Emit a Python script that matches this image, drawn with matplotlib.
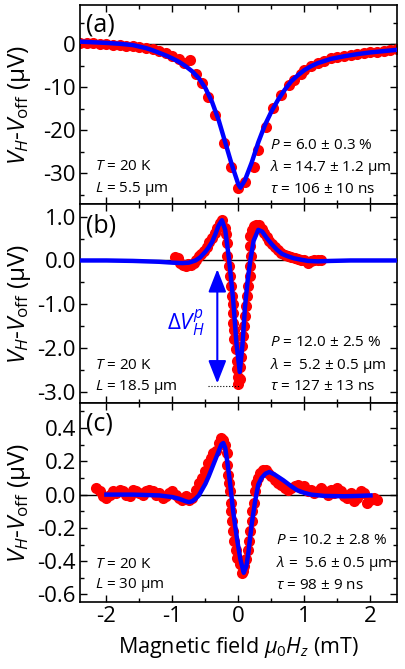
import numpy as np
import matplotlib
matplotlib.use('Agg')
import matplotlib.pyplot as plt
from matplotlib.ticker import MultipleLocator, FormatStrFormatter

plt.rcParams['font.family'] = 'Open Sans'
plt.rcParams['mathtext.fontset'] = 'custom'
plt.rcParams['mathtext.rm'] = 'Open Sans'
plt.rcParams['mathtext.it'] = 'Open Sans:italic'
plt.rcParams['mathtext.bf'] = 'Open Sans:bold'
plt.rcParams['axes.unicode_minus'] = False

# ---- panel (a): L = 5.5 um ----
xa_dots = [-2.4, -2.3, -2.2, -2.1, -2.0, -1.9, -1.8, -1.7, -1.6, -1.5, -1.4, -1.3,
           -1.2, -1.1, -1.0, -0.9, -0.82, -0.73, -0.65, -0.55, -0.46, -0.36, -0.22,
           -0.12, 0.0, 0.1, 0.23, 0.3, 0.42, 0.53, 0.65, 0.76, 0.84, 0.94, 1.0, 1.1,
           1.2, 1.3, 1.4, 1.5, 1.6, 1.7, 1.8, 1.9, 2.0, 2.1, 2.2, 2.3, 2.4]
ya_dots = [0.3, 0.25, 0.2, 0.1, 0.0, -0.1, -0.2, -0.3, -0.5, -0.7, -0.9, -1.2,
           -1.6, -2.1, -2.7, -3.4, -4.3, -3.7, -6.8, -9.1, -12.3, -16.5, -22.9,
           -28.5, -33.3, -32.0, -28.5, -24.5, -19.3, -14.9, -11.9, -9.5, -8.2, -6.8,
           -6.0, -5.0, -4.3, -3.8, -3.3, -3.0, -2.7, -2.5, -2.2, -2.0, -1.8, -1.7,
           -1.5, -1.4, -1.2]
xa_fit = [-2.4, -2.2, -2.0, -1.8, -1.6, -1.4, -1.3, -1.2, -1.1, -1.0, -0.9, -0.8,
          -0.7, -0.6, -0.5, -0.4, -0.3, -0.2, -0.1, 0.0, 0.03, 0.1, 0.2, 0.3, 0.4,
          0.5, 0.6, 0.7, 0.8, 0.9, 1.0, 1.1, 1.2, 1.4, 1.6, 1.8, 2.0, 2.2, 2.4]
ya_fit = [0.6, 0.45, 0.3, 0.1, -0.2, -0.9, -1.4, -2.0, -2.6, -3.3, -4.1, -5.1,
          -6.3, -7.9, -10.2, -13.4, -17.6, -22.8, -28.0, -32.6, -33.3, -31.5, -27.5,
          -22.8, -18.8, -15.6, -12.9, -10.6, -8.6, -7.2, -6.0, -5.1, -4.4, -3.4,
          -2.8, -2.3, -1.9, -1.6, -1.3]

# ---- panel (b): L = 18.5 um ----
xb_dots = [-0.96, -0.92, -0.88, -0.84, -0.80, -0.76, -0.72, -0.68, -0.64, -0.60,
           -0.56, -0.52, -0.48, -0.44, -0.40, -0.36, -0.32, -0.28, -0.25, -0.21,
           -0.19, -0.18, -0.18, -0.15, -0.13, -0.12, -0.10, -0.09, -0.09, -0.08,
           -0.07, -0.06, -0.03, -0.02, -0.02, 0.0, 0.0,
           0.02, 0.03, 0.04, 0.05, 0.07, 0.08, 0.10, 0.12, 0.13, 0.15, 0.17, 0.18,
           0.19, 0.18, 0.18, 0.20, 0.23, 0.27, 0.31, 0.35, 0.39, 0.43, 0.47, 0.51,
           0.55, 0.60, 0.65, 0.70, 0.75, 0.80, 0.85, 0.90, 0.95, 1.00, 1.05, 1.10,
           1.15, 1.20, 1.25]
yb_dots = [0.08, 0.05, -0.05, -0.10, -0.12, -0.08, -0.10, -0.05, 0.0, 0.10,
           0.15, 0.22, 0.30, 0.42, 0.52, 0.62, 0.75, 0.85, 0.92, 0.75,
           0.60, 0.40, 0.10, -0.13, -0.36, -0.58, -0.81, -1.00, -1.19, -1.42,
           -1.60, -1.80, -2.02, -2.29, -2.48, -2.67, -2.82,
           -2.70, -2.44, -2.21, -1.95, -1.72, -1.49, -1.27, -1.04, -0.81, -0.58,
           -0.36, -0.13, 0.10, 0.33, 0.55, 0.70, 0.78, 0.82, 0.80, 0.72, 0.62,
           0.54, 0.45, 0.38, 0.30, 0.24, 0.18, 0.13, 0.10, 0.07, 0.05, 0.03, 0.02,
           0.0, -0.05, -0.02, 0.02, 0.0, 0.02]
xb_fit = [-2.4, -2.0, -1.6, -1.2, -1.0, -0.85, -0.75, -0.65, -0.58, -0.5, -0.45,
          -0.4, -0.35, -0.3, -0.25, -0.2, -0.14, -0.08, -0.03, 0.02, 0.06, 0.10,
          0.14, 0.18, 0.23, 0.30, 0.36, 0.43, 0.50, 0.58, 0.66, 0.74, 0.84, 0.94,
          1.05, 1.2, 1.4, 1.7, 2.0, 2.4]
yb_fit = [0.0, 0.0, -0.01, -0.03, -0.05, -0.06, -0.05, 0.0, 0.07, 0.2, 0.3,
          0.42, 0.6, 0.8, 0.92, 0.7, 0.0, -0.9, -1.9, -2.55, -1.95, -1.05,
          -0.45, 0.0, 0.45, 0.70, 0.66, 0.51, 0.38, 0.25, 0.15, 0.10, 0.05, 0.02,
          -0.01, -0.02, -0.01, 0.0, 0.0, 0.0]

# ---- panel (c): L = 30 um ----
xc_dots = [-2.15, -2.10, -2.05, -2.00, -1.95, -1.90, -1.85, -1.80, -1.75, -1.70,
           -1.65, -1.60, -1.55, -1.50, -1.45, -1.40, -1.35, -1.30, -1.25, -1.20,
           -1.15, -1.10, -1.05, -1.00, -0.95, -0.90, -0.85, -0.80, -0.75, -0.70,
           -0.65, -0.60, -0.55, -0.50, -0.46, -0.42, -0.38, -0.34, -0.30, -0.27,
           -0.24, -0.21, -0.18, -0.17, -0.16, -0.15, -0.13, -0.12, -0.11, -0.10,
           -0.09, -0.06, -0.04, -0.02, 0.02, 0.05, 0.07, 0.09, 0.12, 0.15, 0.16,
           0.18, 0.20, 0.21, 0.23, 0.25, 0.27, 0.30, 0.33, 0.37, 0.41, 0.45, 0.50,
           0.55, 0.60, 0.65, 0.70, 0.75, 0.80, 0.85, 0.90, 0.95, 1.00, 1.05, 1.10,
           1.15, 1.20, 1.25, 1.30, 1.35, 1.40, 1.45, 1.50, 1.55, 1.60, 1.65, 1.70,
           1.75, 1.80, 1.85, 1.90, 1.95, 2.00, 2.05, 2.10]
yc_dots = [0.04, 0.02, -0.01, -0.02, 0.00, 0.02, 0.01, 0.03, 0.02, 0.00,
           -0.01, 0.03, 0.02, 0.01, 0.00, 0.02, 0.03, 0.02, 0.00, 0.01,
           -0.02, -0.01, 0.01, 0.02, 0.00, -0.02, -0.03, -0.01, -0.03, -0.02,
           0.03, 0.07, 0.10, 0.14, 0.19, 0.22, 0.25, 0.26, 0.31, 0.34,
           0.33, 0.30, 0.25, 0.18, 0.12, 0.07, 0.02, -0.05, -0.10, -0.16,
           -0.22, -0.28, -0.33, -0.38, -0.42, -0.47, -0.46, -0.43, -0.39, -0.33,
           -0.28, -0.22, -0.16, -0.10, -0.05, 0.02, 0.07, 0.10, 0.13, 0.15, 0.15,
           0.13, 0.11, 0.09, 0.07, 0.06, 0.04, 0.03, 0.04, 0.05, 0.06, 0.04, 0.05,
           0.02, 0.03, 0.01, 0.02, 0.04, 0.02, 0.00, 0.03, 0.01, 0.04, 0.02, -0.01,
           -0.02, 0.01, -0.04, -0.02, 0.02, 0.01, -0.05, -0.03, -0.02, -0.03]
xc_fit = [-2.0, -1.6, -1.2, -1.0, -0.9, -0.8, -0.75, -0.7, -0.65, -0.6, -0.55,
          -0.5, -0.45, -0.4, -0.35, -0.3, -0.26, -0.23, -0.2, -0.17, -0.13, -0.08,
          -0.02, 0.03, 0.08, 0.12, 0.15, 0.2, 0.25, 0.3, 0.35, 0.41, 0.47, 0.55,
          0.68, 0.8, 0.89, 1.0, 1.1, 1.3, 1.6, 1.8, 2.0]
yc_fit = [0.0, 0.0, -0.005, -0.015, -0.025, -0.04, -0.045, -0.04, -0.025, -0.005,
          0.03, 0.065, 0.11, 0.16, 0.21, 0.26, 0.30, 0.31, 0.28, 0.20, 0.08, -0.10,
          -0.27, -0.39, -0.47, -0.43, -0.35, -0.18, -0.045, 0.06, 0.10, 0.126,
          0.136, 0.12, 0.086, 0.05, 0.026, 0.01, 0.0, -0.008, -0.01, -0.008, -0.005]

xticks = [-2, -1, 0, 1, 2]

fig = plt.figure(figsize=(4.05, 6.69), dpi=100)
gs = fig.add_gridspec(3, 1, left=0.1975, right=0.980, top=0.9925, bottom=0.1,
                      hspace=0)
axa = fig.add_subplot(gs[0])
axb = fig.add_subplot(gs[1], sharex=axa)
axc = fig.add_subplot(gs[2], sharex=axa)

panels = [(axa, xa_dots, ya_dots, xa_fit, ya_fit),
          (axb, xb_dots, yb_dots, xb_fit, yb_fit),
          (axc, xc_dots, yc_dots, xc_fit, yc_fit)]
for ax, xd, yd, xf, yf in panels:
    ax.axhline(0, color='black', lw=1.0, zorder=1)
    ax.plot(xd, yd, 'o', color='red', ms=8, mec='none', zorder=2)
    ax.plot(xf, yf, color='blue', lw=3.2, zorder=3)
    ax.tick_params(which='both', direction='in', top=True, right=True,
                   labelsize=16, width=1, pad=3)
    ax.tick_params(which='major', length=5)
    ax.tick_params(which='minor', length=3)
    for sp in ax.spines.values():
        sp.set_linewidth(1.2)
    ax.xaxis.set_minor_locator(MultipleLocator(0.5))
    ax.set_ylabel('$V_H$-$V_{\\mathrm{off}}$ (μV)', fontsize=17.5)
    ax.yaxis.set_label_coords(-0.148, 0.5)

axa.set_xlim(-2.4, 2.4)
axa.set_xticks(xticks)
for ax in (axa, axb):
    plt.setp(ax.get_xticklabels(), visible=False)

axa.set_ylim(-37.1, 9.1)
axa.yaxis.set_major_locator(MultipleLocator(10))
axa.yaxis.set_minor_locator(MultipleLocator(5))

axb.set_ylim(-3.26, 1.29)
axb.yaxis.set_major_locator(MultipleLocator(1))
axb.yaxis.set_minor_locator(MultipleLocator(0.5))
axb.yaxis.set_major_formatter(FormatStrFormatter('%.1f'))

axc.set_ylim(-0.646, 0.55)
axc.yaxis.set_major_locator(MultipleLocator(0.2))
axc.yaxis.set_minor_locator(MultipleLocator(0.1))
axc.yaxis.set_major_formatter(FormatStrFormatter('%.1f'))

axc.set_xlabel('Magnetic field $\\mu_0H_z$ (mT)', fontsize=15.5)
axc.xaxis.set_label_coords(0.5, -0.165)

# panel labels and parameters
fs = 11
labels = [(axa, '(a)', 0.90, '5.5', 0.187, 0.076, 0.60,
           ['$P$ = 6.0 ± 0.3 %', '$\\lambda$ = 14.7 ± 1.2 μm', '$\\tau$ = 106 ± 10 ns'],
           [0.293, 0.182, 0.071]),
          (axb, '(b)', 0.89, '18.5', 0.19, 0.083, 0.60,
           ['$P$ = 12.0 ± 2.5 %', '$\\lambda$ =  5.2 ± 0.5 μm', '$\\tau$ = 127 ± 13 ns'],
           [0.306, 0.19, 0.083]),
          (axc, '(c)', 0.894, '30', 0.19, 0.085, 0.62,
           ['$P$ = 10.2 ± 2.8 %', '$\\lambda$ =  5.6 ± 0.5 μm', '$\\tau$ = 98 ± 9 ns'],
           [0.312, 0.195, 0.085])]
for ax, tag, ty, L, yT, yL, xr, rtexts, ry in labels:
    ax.text(0.02, ty, tag, transform=ax.transAxes, fontsize=18, va='center')
    ax.text(0.047, yT, '$T$ = 20 K', transform=ax.transAxes, fontsize=fs,
            va='center')
    ax.text(0.047, yL, '$L$ = ' + L + ' μm', transform=ax.transAxes,
            fontsize=fs, va='center')
    for t, yy in zip(rtexts, ry):
        ax.text(xr, yy, t, transform=ax.transAxes, fontsize=fs, va='center')

# peak-to-peak marker in (b)
axb.annotate('', xy=(-0.32, -0.2), xytext=(-0.32, -2.81),
             arrowprops=dict(arrowstyle='<|-|>,head_length=1.4,head_width=0.55',
                             color='blue', lw=1.5, mutation_scale=10,
                             shrinkA=0, shrinkB=0))
axb.plot([-0.46, 0.03], [-2.88, -2.88], ls=':', color='black', lw=0.8)
axb.text(-0.80, -1.45, '$\\Delta V_H^p$', color='blue', fontsize=16,
         ha='center', va='center')

fig.savefig('out.png', dpi=100)
